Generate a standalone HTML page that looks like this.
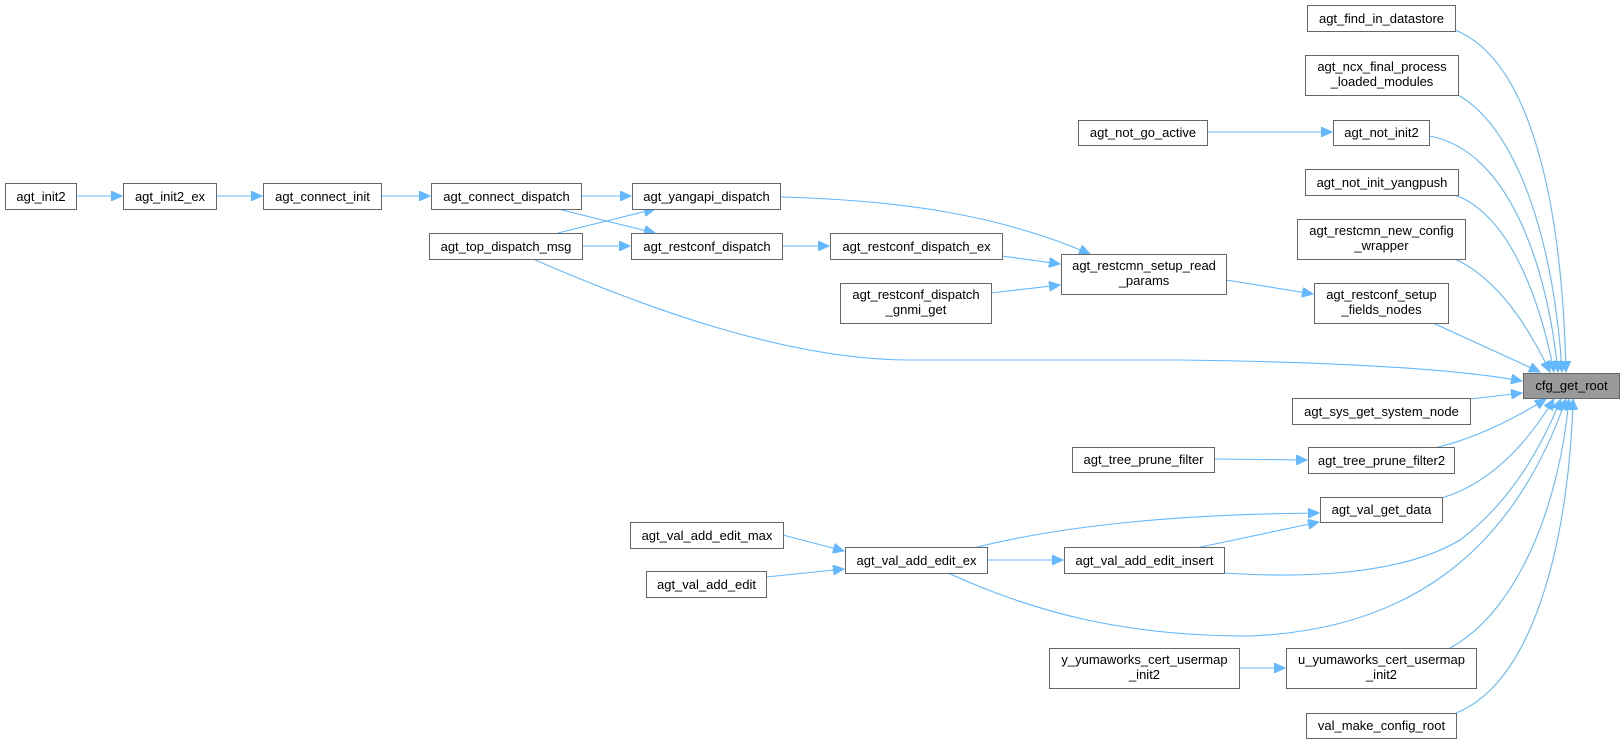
<!DOCTYPE html>
<html><head><meta charset="utf-8"><style>
html,body{margin:0;padding:0;background:#fff;}
svg{display:block;}
text{font-family:"Liberation Sans",Arial,sans-serif;font-size:13px;fill:#000;}
</style></head><body>
<svg width="1624" height="744" viewBox="0 0 1624 744" xmlns="http://www.w3.org/2000/svg">
<defs>
<marker id="a" markerWidth="12" markerHeight="10" refX="11" refY="5" orient="auto" markerUnits="userSpaceOnUse">
<path d="M0,0 L11,5 L0,10 Z" fill="#63b8ff" stroke="#63b8ff"/>
</marker>
</defs>
<g fill="none" stroke="#63b8ff" stroke-width="1.1" marker-end="url(#a)">
<path d="M76,196 H122"/>
<path d="M216,196 H262"/>
<path d="M381,196 H430"/>
<path d="M581,196 H631"/>
<path d="M558,209 L655,233"/>
<path d="M582,246 H630"/>
<path d="M558,233 L655,209"/>
<path d="M533,259 C650,310 790,360 910,360 H1180 C1330,362 1450,368 1522,381"/>
<path d="M780,197 C900,200 1000,215 1090,254"/>
<path d="M782,246 H829"/>
<path d="M1002,256 L1060,264"/>
<path d="M991,293 L1060,285"/>
<path d="M1226,280 L1313,294"/>
<path d="M1207,132 H1332"/>
<path d="M1433,323 L1540,372"/>
<path d="M1455,30 C1530,60 1562,200 1566,372"/>
<path d="M1458,95 C1520,130 1555,250 1562,372"/>
<path d="M1429,136 C1510,150 1548,270 1558,372"/>
<path d="M1455,195 C1510,215 1540,300 1554,372"/>
<path d="M1455,259 C1500,280 1530,330 1550,372"/>
<path d="M1470,399 L1522,393"/>
<path d="M1214,459 L1307,460"/>
<path d="M1438,447 C1480,437 1520,415 1546,399"/>
<path d="M1442,498 C1500,480 1535,430 1554,399"/>
<path d="M783,535 L844,551"/>
<path d="M766,577 L844,569"/>
<path d="M987,560 H1063"/>
<path d="M977,547 C1080,522 1200,514 1319,513"/>
<path d="M1196,548 L1319,522"/>
<path d="M1224,573 C1300,578 1400,576 1460,540 C1520,495 1548,430 1561,399"/>
<path d="M948,573 C1040,615 1130,636 1250,636 C1400,630 1510,560 1566,399"/>
<path d="M1239,668 H1285"/>
<path d="M1450,648 C1520,610 1560,500 1569,399"/>
<path d="M1456,713 C1540,680 1570,520 1573,399"/>
</g>
<g fill="#fff" stroke="#666" stroke-width="1">
<rect x="5.5" y="183.5" width="71" height="26"/>
<rect x="123.5" y="183.5" width="93" height="26"/>
<rect x="263.5" y="183.5" width="118" height="26"/>
<rect x="431.5" y="183.5" width="150" height="26"/>
<rect x="429.5" y="233.5" width="153" height="26"/>
<rect x="632.5" y="183.5" width="148" height="26"/>
<rect x="631.5" y="233.5" width="151" height="26"/>
<rect x="830.5" y="233.5" width="172" height="26"/>
<rect x="840.5" y="283.5" width="151" height="40"/>
<rect x="1061.5" y="254.5" width="165" height="40"/>
<rect x="1078.5" y="120.5" width="129" height="25"/>
<rect x="1307.5" y="5.5" width="148" height="26"/>
<rect x="1305.5" y="55.5" width="153" height="40"/>
<rect x="1333.5" y="120.5" width="96" height="25"/>
<rect x="1305.5" y="169.5" width="153" height="26"/>
<rect x="1297.5" y="219.5" width="168" height="40"/>
<rect x="1314.5" y="283.5" width="134" height="40"/>
<rect x="1523.5" y="373.5" width="96" height="25" fill="#999"/>
<rect x="1292.5" y="398.5" width="178" height="26"/>
<rect x="1072.5" y="447.5" width="142" height="25"/>
<rect x="1308.5" y="447.5" width="146" height="26"/>
<rect x="1320.5" y="497.5" width="122" height="25"/>
<rect x="630.5" y="522.5" width="153" height="26"/>
<rect x="646.5" y="571.5" width="120" height="26"/>
<rect x="845.5" y="547.5" width="142" height="26"/>
<rect x="1064.5" y="547.5" width="160" height="26"/>
<rect x="1049.5" y="648.5" width="190" height="40"/>
<rect x="1286.5" y="648.5" width="190" height="40"/>
<rect x="1306.5" y="713.5" width="150" height="25"/>
</g>
<g text-anchor="middle">
<text x="41" y="201">agt_init2</text>
<text x="170" y="201">agt_init2_ex</text>
<text x="322.5" y="201">agt_connect_init</text>
<text x="506.5" y="201">agt_connect_dispatch</text>
<text x="506" y="251">agt_top_dispatch_msg</text>
<text x="706.5" y="201">agt_yangapi_dispatch</text>
<text x="707" y="251">agt_restconf_dispatch</text>
<text x="916.5" y="251">agt_restconf_dispatch_ex</text>
<text x="916" y="299">agt_restconf_dispatch</text>
<text x="916" y="314">_gnmi_get</text>
<text x="1144" y="270">agt_restcmn_setup_read</text>
<text x="1144" y="285">_params</text>
<text x="1143" y="137">agt_not_go_active</text>
<text x="1381.5" y="23">agt_find_in_datastore</text>
<text x="1382" y="71">agt_ncx_final_process</text>
<text x="1382" y="86">_loaded_modules</text>
<text x="1381.5" y="137">agt_not_init2</text>
<text x="1382" y="187">agt_not_init_yangpush</text>
<text x="1381.5" y="235">agt_restcmn_new_config</text>
<text x="1381.5" y="250">_wrapper</text>
<text x="1381.5" y="299">agt_restconf_setup</text>
<text x="1381.5" y="314">_fields_nodes</text>
<text x="1571.5" y="390">cfg_get_root</text>
<text x="1381.5" y="416">agt_sys_get_system_node</text>
<text x="1143.5" y="464">agt_tree_prune_filter</text>
<text x="1381.5" y="465">agt_tree_prune_filter2</text>
<text x="1381.5" y="514">agt_val_get_data</text>
<text x="707" y="540">agt_val_add_edit_max</text>
<text x="706.5" y="589">agt_val_add_edit</text>
<text x="916.5" y="565">agt_val_add_edit_ex</text>
<text x="1144.5" y="565">agt_val_add_edit_insert</text>
<text x="1144.5" y="664">y_yumaworks_cert_usermap</text>
<text x="1144.5" y="679">_init2</text>
<text x="1381.5" y="664">u_yumaworks_cert_usermap</text>
<text x="1381.5" y="679">_init2</text>
<text x="1381.5" y="730">val_make_config_root</text>
</g>
</svg>
</body></html>
